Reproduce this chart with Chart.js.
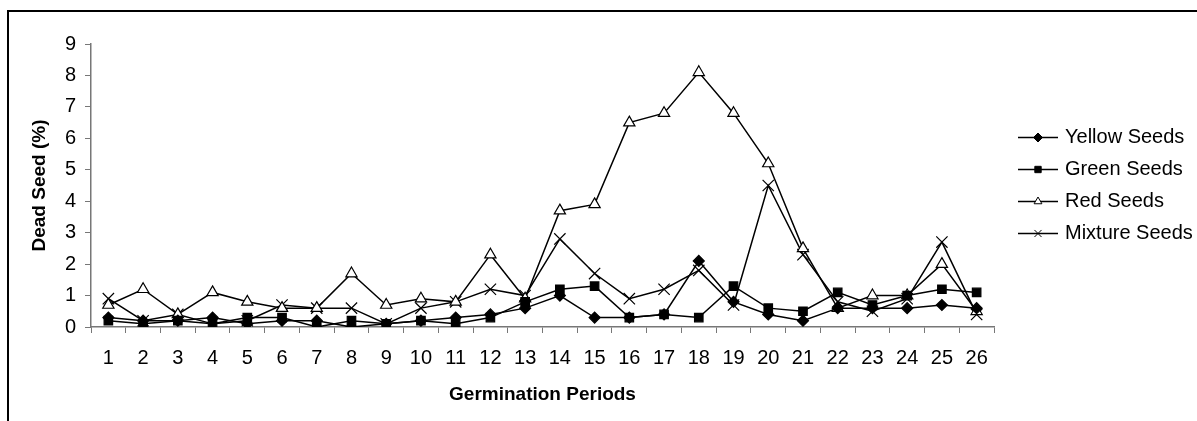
<!DOCTYPE html>
<html>
<head>
<meta charset="utf-8">
<script src="https://cdn.jsdelivr.net/npm/chart.js@4"></script>
<style>
  html, body { margin: 0; padding: 0; background: #fff; }
  #wrap { width: 1197px; height: 421px; }
</style>
</head>
<body>
<div id="wrap"><canvas id="seedChart" width="1197" height="421"></canvas></div>
<script>
const periods = ['1', '2', '3', '4', '5', '6', '7', '8', '9', '10', '11', '12', '13',
    '14', '15', '16', '17', '18', '19', '20', '21', '22', '23', '24', '25', '26'];

const yellowSeeds = [0.3, 0.2, 0.2, 0.3, 0.1, 0.2, 0.2, 0.0, 0.1, 0.2, 0.3, 0.4, 0.6,
    1.0, 0.3, 0.3, 0.4, 2.1, 0.8, 0.4, 0.2, 0.6, 0.6, 0.6, 0.7, 0.6];
const greenSeeds = [0.2, 0.1, 0.2, 0.1, 0.3, 0.3, 0.0, 0.2, 0.1, 0.2, 0.1, 0.3, 0.8,
    1.2, 1.3, 0.3, 0.4, 0.3, 1.3, 0.6, 0.5, 1.1, 0.7, 1.0, 1.2, 1.1];
const redSeeds = [0.7, 1.2, 0.4, 1.1, 0.8, 0.6, 0.6, 1.7, 0.7, 0.9, 0.8, 2.3, 0.9,
    3.7, 3.9, 6.5, 6.8, 8.1, 6.8, 5.2, 2.5, 0.6, 1.0, 1.0, 2.0, 0.5];
const mixtureSeeds = [0.9, 0.2, 0.4, 0.1, 0.2, 0.7, 0.6, 0.6, 0.1, 0.6, 0.8, 1.2, 1.0,
    2.8, 1.7, 0.9, 1.2, 1.8, 0.7, 4.5, 2.3, 0.8, 0.5, 0.9, 2.7, 0.4];

const FONT = "'Liberation Sans', Arial, sans-serif";

function makeDataset(label, data, style, radius, fill) {
    return {
        label: label,
        data: data,
        borderColor: '#000',
        borderWidth: 1.5,
        backgroundColor: fill,
        pointStyle: style,
        pointRadius: radius,
        pointHoverRadius: radius,
        pointBorderColor: '#000',
        pointBackgroundColor: fill,
        pointBorderWidth: 1.2,
        tension: 0,
        fill: false
    };
}

// frame round the picture (top and left edges only are visible)
const framePlugin = {
    id: 'frame',
    afterDraw(chart) {
        const ctx = chart.ctx;
        ctx.save();
        ctx.strokeStyle = '#000';
        ctx.lineWidth = 2;
        ctx.beginPath();
        ctx.moveTo(8, 421);
        ctx.lineTo(8, 11);
        ctx.lineTo(1197, 11);
        ctx.stroke();
        ctx.restore();
    }
};

// legend with a line through each marker, like the spreadsheet one
const lineLegend = {
    id: 'lineLegend',
    afterDraw(chart) {
        const ctx = chart.ctx;
        ctx.save();
        chart.data.datasets.forEach((ds, i) => {
            const y = 137.5 + i * 32;
            ctx.strokeStyle = '#000';
            ctx.lineWidth = 1.5;
            ctx.beginPath();
            ctx.moveTo(1018, y);
            ctx.lineTo(1058, y);
            ctx.stroke();
            ctx.fillStyle = ds.pointBackgroundColor;
            ctx.lineWidth = 1;
            Chart.helpers.drawPoint(ctx, {
                pointStyle: ds.pointStyle,
                radius: ds.pointStyle === 'crossRot' ? 5 : 4.5,
                rotation: 0,
                borderWidth: 1
            }, 1038, y);
            ctx.fillStyle = '#000';
            ctx.font = '20px ' + FONT;
            ctx.textBaseline = 'middle';
            ctx.textAlign = 'left';
            ctx.fillText(ds.label, 1065, y);
        });
        ctx.restore();
    }
};

new Chart(document.getElementById('seedChart'), {
    type: 'line',
    data: {
        labels: periods,
        datasets: [
            makeDataset('Yellow Seeds', yellowSeeds, 'rectRot', 5.5, '#000'),
            makeDataset('Green Seeds', greenSeeds, 'rect', 6, '#000'),
            makeDataset('Red Seeds', redSeeds, 'triangle', 6.5, '#fff'),
            makeDataset('Mixture Seeds', mixtureSeeds, 'crossRot', 8, '#000')
        ]
    },
    options: {
        responsive: false,
        animation: false,
        events: [],
        layout: {
            padding: { top: 44, right: 203, bottom: 0, left: 0 }
        },
        plugins: {
            legend: { display: false },
            tooltip: { enabled: false }
        },
        scales: {
            x: {
                offset: true,
                grid: {
                    offset: true,
                    drawOnChartArea: false,
                    tickLength: 6,
                    color: '#777'
                },
                border: { color: '#777', width: 1.5 },
                ticks: {
                    color: '#000',
                    padding: 13,
                    maxRotation: 0,
                    autoSkip: false,
                    font: { family: FONT, size: 20 }
                },
                title: {
                    display: true,
                    text: 'Germination Periods',
                    color: '#000',
                    padding: { top: 0, bottom: 14.5 },
                    font: { family: FONT, size: 19, weight: 'bold' }
                },
                afterFit(scale) { scale.height = 94; }
            },
            y: {
                min: 0,
                max: 9,
                grid: {
                    drawOnChartArea: false,
                    tickLength: 6,
                    color: '#777'
                },
                border: { color: '#777', width: 1.5 },
                ticks: {
                    stepSize: 1,
                    color: '#000',
                    padding: 9,
                    font: { family: FONT, size: 20 }
                },
                title: {
                    display: true,
                    text: 'Dead Seed (%)',
                    color: '#000',
                    padding: { top: 28.5, bottom: 0 },
                    font: { family: FONT, size: 19, weight: 'bold' }
                },
                afterFit(scale) { scale.width = 91; }
            }
        }
    },
    plugins: [framePlugin, lineLegend]
});
</script>
</body>
</html>
